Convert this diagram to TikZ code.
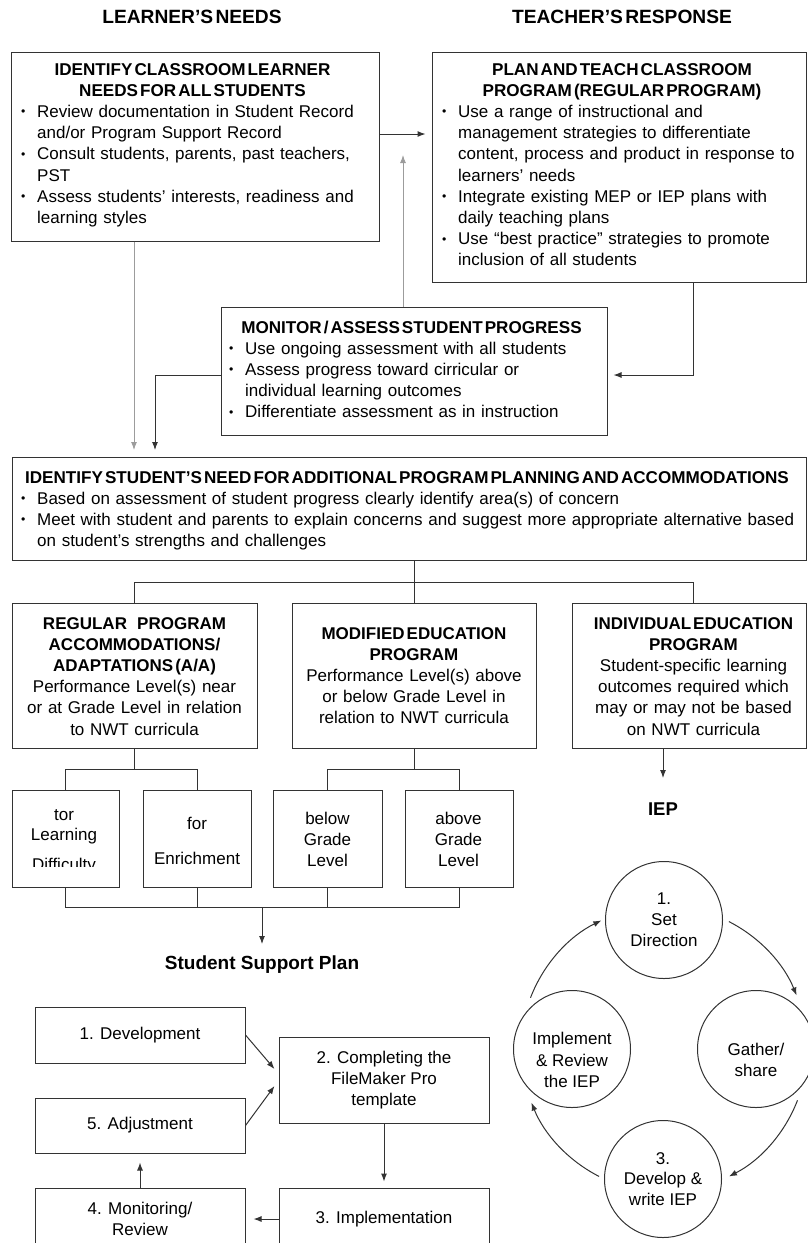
\documentclass[tikz,border=0pt]{standalone}
\usepackage{fontspec}
\setmainfont{Liberation Sans}
\usepackage{graphicx}
\usetikzlibrary{arrows.meta,calc}

\definecolor{lc}{HTML}{333333}
\definecolor{gc}{HTML}{9C9C9C}

% tight word spacing used in the bold headings
\newcommand\tsp{\spaceskip=0.12em\relax}
% bullet item with hanging indent; \nl breaks a line inside the item
\newcommand\dotmark{\makebox[16pt][l]{\raisebox{1.5pt}{\scalebox{0.72}{•}}}}
\newcommand\bitem[1]{\hangindent=16pt\hangafter=1\noindent\dotmark#1\par}
\newcommand\nl{\newline}

\tikzset{
  box/.style={draw=lc, line width=1pt, rectangle, inner sep=0pt},
  txt/.style={inner sep=0pt, font=\fontsize{17}{21.2}\selectfont},
  ttl/.style={inner sep=0pt, anchor=base, align=center, font=\fontsize{17.1}{21.2}\selectfont\bfseries},
  ctr/.style={txt, anchor=base, align=center},
  lst/.style={txt, anchor=base west, align=left},
  hdr/.style={inner sep=0pt, anchor=base, font=\fontsize{19.2}{23}\selectfont\bfseries\tsp},
  bold/.style={inner sep=0pt, anchor=base, font=\fontsize{19}{23}\selectfont\bfseries},
  flow/.style={box, align=center, font=\fontsize{17}{21.2}\selectfont},
  circ/.style={circle, draw=lc, line width=1pt, minimum size=117pt, inner sep=0pt, align=center, font=\fontsize{17}{20.8}\selectfont},
  ln/.style={draw=lc, line width=1pt},
  arr/.style={draw=lc, line width=1pt, -{Latex[length=8pt,width=6pt]}},
  garr/.style={draw=gc, line width=1pt, -{Latex[length=8pt,width=6pt]}},
}

\begin{document}
\begin{tikzpicture}[x=1pt,y=-1pt]
\useasboundingbox (0,0) rectangle (808,1243);
\clip (0,0) rectangle (808,1243);

% column headings
\node[hdr] (hl) at (192,23.5) {LEARNER’S NEEDS};
\node[hdr] (hr) at (622,23.5) {TEACHER’S RESPONSE};

% learner needs
\node[box, minimum width=368pt, minimum height=189pt] (A) at (195,146.5) {};
\node[ttl, text width=340pt] (At) at (192.5,75) {\tsp IDENTIFY CLASSROOM LEARNER\\NEEDS FOR ALL STUDENTS};
\node[lst, text width=350pt] (Al) at (21,117.4) {%
  \bitem{Review documentation in Student Record\nl and/or Program Support Record}%
  \bitem{Consult students, parents, past teachers,\nl PST}%
  \bitem{Assess students’ interests, readiness and\nl learning styles}};

% teacher response
\node[box, minimum width=374pt, minimum height=230pt] (B) at (619,167) {};
\node[ttl, text width=360pt] (Bt) at (622,75) {\tsp PLAN AND TEACH CLASSROOM\\PROGRAM (REGULAR PROGRAM)};
\node[lst, text width=362pt] (Bl) at (442,117.4) {%
  \bitem{Use a range of instructional and\nl management strategies to differentiate\nl content, process and product in response to\nl learners’ needs}%
  \bitem{Integrate existing MEP or IEP plans with\nl daily teaching plans}%
  \bitem{Use “best practice” strategies to promote\nl inclusion of all students}};

% monitoring
\node[box, minimum width=386pt, minimum height=128pt] (M) at (414,371) {};
\node[ttl, text width=380pt] (Mt) at (411.5,333) {\tsp MONITOR / ASSESS STUDENT PROGRESS};
\node[lst, text width=370pt] (Ml) at (229,354.2) {%
  \bitem{Use ongoing assessment with all students}%
  \bitem{Assess progress toward cirricular or\nl individual learning outcomes}%
  \bitem{Differentiate assessment as in instruction}};

% additional planning
\node[box, minimum width=794pt, minimum height=103pt] (C) at (409,508.5) {};
\node[ttl, text width=790pt] (Ct) at (407,483) {\tsp IDENTIFY STUDENT’S NEED FOR ADDITIONAL PROGRAM PLANNING AND ACCOMMODATIONS};
\node[lst, text width=800pt] (Cl) at (21,504.2) {%
  \bitem{Based on assessment of student progress clearly identify area(s) of concern}%
  \bitem{Meet with student and parents to explain concerns and suggest more appropriate alternative based\nl on student’s strengths and challenges}};

% three program types
\node[box, minimum width=245pt, minimum height=145pt] (D1) at (134.5,675.5) {};
\node[box, minimum width=244pt, minimum height=145pt] (D2) at (414,675.5) {};
\node[box, minimum width=234pt, minimum height=145pt] (D3) at (689,675.5) {};
\node[ctr, text width=240pt] (D1t) at (134.5,629) {{\bfseries\tsp REGULAR\hspace{0.6em}PROGRAM\\ACCOMMODATIONS/\\ADAPTATIONS (A/A)\\}Performance Level(s) near\\or at Grade Level in relation\\to NWT curricula};
\node[ctr, text width=240pt] (D2t) at (414,639) {{\bfseries\tsp MODIFIED EDUCATION\\PROGRAM\\}Performance Level(s) above\\or below Grade Level in\\relation to NWT curricula};
\node[ctr, text width=230pt] (D3t) at (693.5,629) {{\bfseries\tsp INDIVIDUAL EDUCATION\\PROGRAM\\}Student-specific learning\\outcomes required which\\may or may not be based\\on NWT curricula};

% sub-cases
\node[box, minimum width=107pt, minimum height=97pt] (S1) at (65.5,838.5) {};
\node[box, minimum width=108pt, minimum height=97pt] (S2) at (197,838.5) {};
\node[box, minimum width=109pt, minimum height=97pt] (S3) at (327.5,838.5) {};
\node[box, minimum width=108pt, minimum height=97pt] (S4) at (459,838.5) {};
\begin{scope}
  \clip (12,790) rectangle (119,866.5);
  \node[ctr, text width=100pt] (S1t) at (64,820) {tor\\[-0.7pt]Learning\\[8.3pt]Difficulty};
\end{scope}
\node[ctr, text width=100pt] (S2t) at (197,829) {for\\[13.8pt]Enrichment};
\node[ctr, text width=100pt] (S3t) at (327.5,824) {below\\Grade\\Level};
\node[ctr, text width=100pt] (S4t) at (458.5,824) {above\\Grade\\Level};

% connectors, upper part
\coordinate (ab) at (0,134);
\draw[arr, shorten >=6pt] (A.east |- ab) -- (B.west |- ab);
\coordinate (gup) at (403,155);
\draw[garr] (M.north -| gup) -- (gup);
\coordinate (gdn) at (134,450);
\draw[garr] (A.south -| gdn) -- (gdn);
\coordinate (bm) at (693,375);
\draw[arr, shorten >=6pt] (B.south -| bm) -- (bm) -- (M.east |- bm);
\coordinate (mc) at (155,375);
\draw[arr] (M.west |- mc) -- (mc) -- (mc |- gdn);

% branching to program types
\coordinate (br) at (693,582);
\draw[ln] (C.south -| D2.north) -- (D2.north);
\draw[ln] (D1.north) |- (br) -- (br |- D3.north);
\coordinate (sa) at (0,769);
\draw[ln] (D1.south) -- (D1.south |- sa);
\draw[ln] (S1.north) |- (S2.north |- sa) -- (S2.north);
\draw[ln] (D2.south) -- (D2.south |- sa);
\draw[ln] (S3.north) |- (S4.north |- sa) -- (S4.north);
\coordinate (sb) at (0,907);
\draw[ln] (S1.south) |- (S4.south |- sb) -- (S4.south);
\draw[ln] (S2.south) -- (S2.south |- sb);
\draw[ln] (S3.south) -- (S3.south |- sb);
\coordinate (sd) at (262,907);
\coordinate (sdt) at (262,944);
\draw[arr] (sd) -- (sdt);
\coordinate (ie) at (663,778);
\draw[arr] (D3.south -| ie) -- (ie);

\node[bold] (ssp) at (262,969.5) {Student Support Plan};
\node[bold, font=\fontsize{18.5}{22}\selectfont\bfseries] (iep) at (663,815.5) {IEP};

% student support plan cycle
\node[flow, minimum width=210pt, minimum height=56pt] (P1) at (140,1035) {1. Development};
\node[flow, minimum width=210pt, minimum height=55pt] (P5) at (140,1125.5) {5. Adjustment};
\node[flow, minimum width=210pt, minimum height=86pt] (P2) at (384,1080) {2. Completing the\\FileMaker Pro\\template};
\node[flow, minimum width=210pt, minimum height=62pt] (P3) at (384,1219) {3. Implementation};
\node[flow, minimum width=210pt, minimum height=62pt] (P4) at (140,1219) {4. Monitoring/\\Review};
\draw[arr] (P1.east) -- ($(P2.west)+(-4,-11)$);
\draw[arr] (P5.east) -- ($(P2.west)+(-4,6)$);
\draw[arr, shorten >=6pt] (P2.south) -- (P3.north);
\draw[arr, shorten >=8pt] (P3.west) -- (P4.east);
\draw[arr, shorten >=9pt] (P4.north) -- (P5.south);

% IEP cycle
\coordinate (cc) at (664,1049);
\node[circ] (K1) at (664,920) {1.\\Set\\Direction};
\node[circ] (K2) at (756,1049) {};
\node[txt, align=center] (K2t) at (756,1060) {Gather/\\share};
\node[circ] (K3) at (663,1179) {3.\\Develop \&\\write IEP};
\node[circ] (K4) at (572,1049) {};
\node[txt, align=center] (K4t) at (572,1060) {Implement\\\& Review\\the IEP};
\draw[arr] ($(cc)+(63:143pt)$) arc[start angle=63, end angle=22, radius=143pt];
\draw[arr] ($(cc)+(-21:143pt)$) arc[start angle=-21, end angle=-63, radius=143pt];
\draw[arr] ($(cc)+(-117:143pt)$) arc[start angle=-117, end angle=-158, radius=143pt];
\draw[arr] ($(cc)+(159:143pt)$) arc[start angle=159, end angle=116, radius=143pt];
\end{tikzpicture}
\end{document}
